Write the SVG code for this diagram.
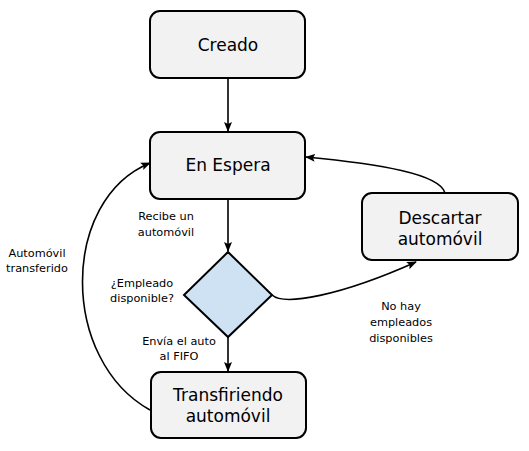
<svg xmlns="http://www.w3.org/2000/svg" width="529" height="451" viewBox="0 0 529 451">
<defs>
<style>
.node{fill:#f2f2f2;stroke:#000;stroke-width:2}
.dec{fill:#cfe2f3;stroke:#000;stroke-width:2}
.nl{font-family:"DejaVu Sans","Open Sans",sans-serif;font-size:17px;fill:#000;text-anchor:middle}
.el{font-family:"DejaVu Sans","Open Sans",sans-serif;font-size:11.3px;fill:#000;text-anchor:middle}
.edge{fill:none;stroke:#000;stroke-width:1.6}
</style>
<marker id="arr" viewBox="0 0 10 10" refX="9" refY="5" markerWidth="10" markerHeight="10" markerUnits="userSpaceOnUse" orient="auto">
<path d="M0,1 L10,5 L0,9 L2,5 Z" fill="#000"/>
</marker>
</defs>
<rect width="529" height="451" fill="#fff"/>
<g id="connectors">
<path class="edge" d="M228,78 L228,131" marker-end="url(#arr)"/>
<path class="edge" d="M228,199 L228,251" marker-end="url(#arr)"/>
<path class="edge" d="M228,337 L228,371" marker-end="url(#arr)"/>
<path class="edge" d="M272,295 C284,306 340,296 416,262" marker-end="url(#arr)"/>
<path class="edge" d="M445,193 C440,174 380,164 306,157" marker-end="url(#arr)"/>
<path class="edge" d="M150,410 C60,360 60,200 150,163" marker-end="url(#arr)"/>
</g>
<g id="creado">
<rect class="node" x="150" y="11" width="155" height="67" rx="10"/>
<text class="nl" x="228" y="51">Creado</text>
</g>
<g id="en-espera">
<rect class="node" x="150" y="132" width="155" height="67" rx="10"/>
<text class="nl" x="228" y="171">En Espera</text>
</g>
<g id="decision">
<polygon class="dec" points="228,252 272,295 228,337 184,295"/>
</g>
<g id="transfiriendo">
<rect class="node" x="151" y="372" width="155" height="66" rx="10"/>
<text class="nl" x="228" y="401">Transfiriendo<tspan x="228" dy="21">automóvil</tspan></text>
</g>
<g id="descartar">
<rect class="node" x="362" y="193" width="156" height="67" rx="10"/>
<text class="nl" x="440" y="224">Descartar<tspan x="440" dy="21">automóvil</tspan></text>
</g>
<g id="labels">
<text class="el" x="166" y="220">Recibe un<tspan x="166" dy="16">automóvil</tspan></text>
<text class="el" x="142" y="287">¿Empleado<tspan x="142" dy="15">disponible?</tspan></text>
<text class="el" x="179" y="345">Envía el auto<tspan x="179" dy="15">al FIFO</tspan></text>
<text class="el" x="401" y="310">No hay<tspan x="401" dy="16">empleados</tspan><tspan x="401" dy="16">disponibles</tspan></text>
<text class="el" x="37" y="257">Automóvil<tspan x="37" dy="15">transferido</tspan></text>
</g>
</svg>
